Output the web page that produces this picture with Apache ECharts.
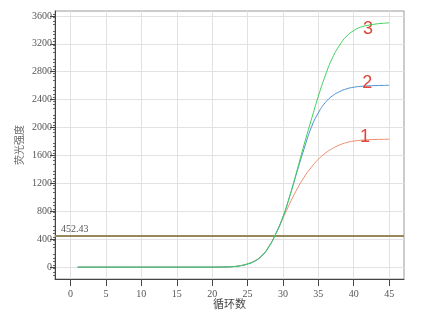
<!DOCTYPE html>
<html><head><meta charset="utf-8">
<script src="https://cdn.jsdelivr.net/npm/echarts@6/dist/echarts.min.js"></script>
<style>html,body{margin:0;padding:0;background:#fff}#c{width:424px;height:313px}</style>
</head><body><div id="c"></div>
<script>
const cycles = Array.from({length:45},(_,i)=>i+1);
const flat = new Array(20).fill(0);
const s1 = flat.concat([1,3,8,22,48,90,165,295,480,700,920,1120,1290,1430,1545,1635,1700,1750,1785,1806,1818,1825,1829,1831,1832]);
const s2 = flat.concat([1,3,8,20,45,85,160,290,480,720,1030,1370,1700,2000,2210,2360,2455,2515,2555,2578,2590,2597,2601,2604,2606]);
const s3 = flat.concat([1,3,8,20,45,85,160,290,480,720,1030,1390,1760,2110,2450,2750,3000,3180,3310,3390,3440,3465,3482,3493,3500]);
const threshold = 452.43;
const xTicks = [0,5,10,15,20,25,30,35,40,45];
const yTicks = [0,400,800,1200,1600,2000,2400,2800,3200,3600];
const curveLabels = [{name:'1',coord:[41.6,1865]},{name:'2',coord:[41.9,2640]},{name:'3',coord:[42.0,3410]}];

const labelFont = {fontFamily:'Liberation Serif',fontSize:10,color:'#555',formatter:v=>String(v)};
function pairs(arr){return arr.map((v,i)=>[cycles[i],v]);}
function mk(lbl){return {symbol:'circle',symbolSize:0,silent:true,
  label:{show:true,position:'inside',formatter:lbl.name,fontSize:18,color:'#e0473b',fontFamily:'Liberation Sans'},
  data:[{coord:lbl.coord}]};}

const chart = echarts.init(document.getElementById('c'),null,{renderer:'canvas'});
chart.setOption({
  animation:false,
  grid:{left:55,right:20,top:11,bottom:34,show:true,borderColor:'#999',borderWidth:1,backgroundColor:'transparent',outerBoundsMode:'none',containLabel:false},
  xAxis:{type:'value',min:-2.2,max:47.1,interval:5,
    name:'循环数',nameLocation:'middle',nameGap:19,nameMoveOverlap:false,
    nameTextStyle:{fontFamily:'Noto Sans CJK SC',fontSize:11,color:'#444'},
    axisLine:{show:true,onZero:false,lineStyle:{color:'#444'}},
    axisTick:{show:true,length:7,customValues:xTicks,lineStyle:{color:'#444'}},
    axisLabel:Object.assign({customValues:xTicks,margin:10},labelFont),
    splitLine:{show:true,lineStyle:{color:'#e2e2e2'}},
    minorTick:{show:false}},
  yAxis:{type:'value',min:-170,max:3670,interval:400,
    name:'荧光强度',nameLocation:'middle',nameGap:31,nameRotate:90,nameMoveOverlap:false,
    nameTextStyle:{fontFamily:'Noto Sans CJK SC',fontSize:10,color:'#666'},
    axisLine:{show:true,onZero:false,lineStyle:{color:'#444'}},
    axisTick:{show:true,length:5,customValues:yTicks,lineStyle:{color:'#444'}},
    axisLabel:Object.assign({customValues:yTicks,margin:3},labelFont),
    splitLine:{show:true,lineStyle:{color:'#e2e2e2'}},
    minorTick:{show:true,splitNumber:8,length:2,lineStyle:{color:'#666'}}},
  series:[
    {type:'line',name:'1',data:pairs(s1),smooth:true,showSymbol:false,lineStyle:{width:1,color:'#f08a6a'},itemStyle:{color:'#f08a6a'},markPoint:mk(curveLabels[0]),z:3},
    {type:'line',name:'2',data:pairs(s2),smooth:true,showSymbol:false,lineStyle:{width:1,color:'#4b8fd1'},itemStyle:{color:'#4b8fd1'},markPoint:mk(curveLabels[1]),z:4},
    {type:'line',name:'3',data:pairs(s3),smooth:true,showSymbol:false,lineStyle:{width:1,color:'#3fcf5a'},itemStyle:{color:'#3fcf5a'},markPoint:mk(curveLabels[2]),z:5,
      markLine:{symbol:'none',silent:true,
        lineStyle:{type:'solid',color:'#97895a',width:2},
        label:{show:true,position:'insideStartTop',formatter:String(threshold),fontFamily:'Liberation Serif',fontSize:10,color:'#555',distance:[6,1]},
        data:[{yAxis:threshold}]}}
  ]
});
</script></body></html>
